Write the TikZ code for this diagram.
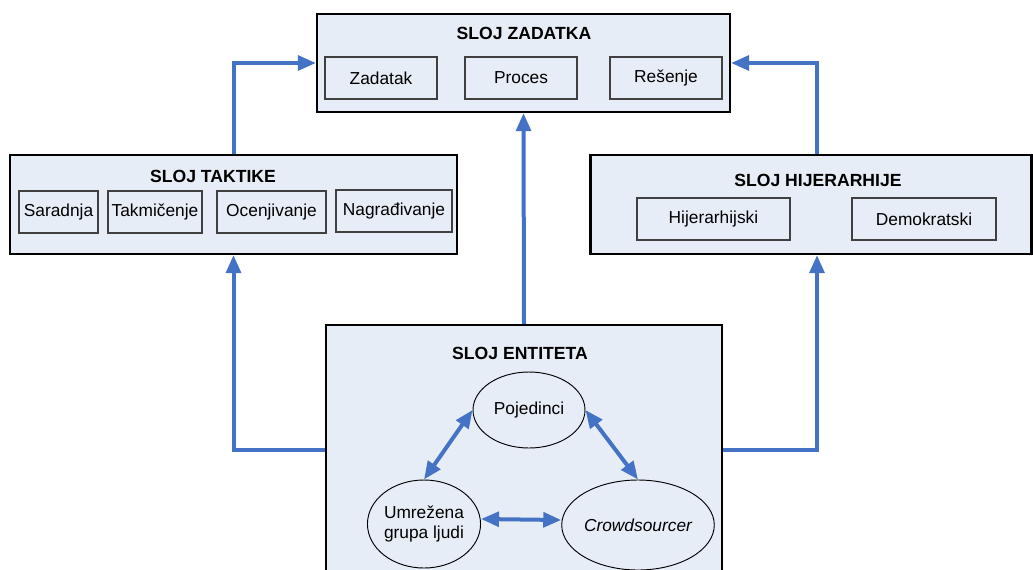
\documentclass[tikz,border=0pt]{standalone}
\usepackage{fontspec}
\setmainfont{Liberation Sans}
\usetikzlibrary{arrows.meta,shapes.geometric}

\definecolor{layerfill}{HTML}{E7EDF7}
\definecolor{linkblue}{HTML}{4472C4}
\definecolor{innerline}{HTML}{404040}

\tikzset{
  layer/.style 2 args={draw=black, line width=1.6pt, fill=layerfill,
    minimum width=#1*0.75pt, minimum height=#2*0.75pt, inner sep=0pt},
  item/.style={draw=innerline, line width=0.8pt, fill=layerfill,
    minimum width=#1*0.75pt, minimum height=42*0.75pt, inner sep=0pt,
    font=\fontsize{13}{15.6}\selectfont},
  layertitle/.style={font=\fontsize{13.2}{15.8}\selectfont\bfseries},
  entity/.style 2 args={ellipse, draw=black, line width=0.7pt, fill=layerfill,
    minimum width=#1*0.75pt, minimum height=#2*0.75pt, inner sep=0pt,
    align=center, font=\fontsize{13}{15}\selectfont},
  link/.style={draw=linkblue, line width=3pt,
    -{Triangle[length=13.5pt,width=11pt]}},
  twoway/.style={draw=linkblue, line width=3pt,
    {Triangle[length=13.5pt,width=11pt]}-{Triangle[length=13.5pt,width=11pt]}}
}

\begin{document}
\begin{tikzpicture}[x=0.75pt,y=-0.75pt]
  \useasboundingbox (0,0) rectangle (1033,569);

  % task layer
  \node[layer={413}{98}] (zad) at (523.5,63) {};
  \node[layertitle] (zadT) at (524,33) {SLOJ ZADATKA};
  \node[item=112] (zadatak) at (381,78) {Zadatak};
  \node[item=112] (proces) at (521,78) {Proces};
  \node[item=112] (resenje) at (666,78) {Rešenje};

  % tactics layer
  \node[layer={447}{99}] (tak) at (233.5,204.5) {};
  \node[layertitle] (takT) at (213,176) {SLOJ TAKTIKE};
  \node[item=79] (saradnja) at (58.5,212) {Saradnja};
  \node[item=94] (takmicenje) at (155,212) {Takmičenje};
  \node[item=109] (ocenjivanje) at (271.5,212) {Ocenjivanje};
  \node[item=116] (nagradjivanje) at (394,211) {Nagrađivanje};

  % hierarchy layer
  \node[layer={441}{99}] (hij) at (811,204.5) {};
  \node[layertitle] (hijT) at (818,180) {SLOJ HIJERARHIJE};
  \node[item=153] (hijerarhijski) at (713.5,219) {Hijerarhijski};
  \node[item=144] (demokratski) at (924,219) {Demokratski};

  % entity layer (runs past the lower edge)
  \node[layer={396}{250}] (ent) at (524,450) {};
  \node[layertitle] (entT) at (520,353) {SLOJ ENTITETA};
  \node[entity={112}{76}] (poj) at (529,410) {Pojedinci};
  \node[entity={110}{88}] (umr) at (424,524) {Umrežena\\grupa ljudi};
  \node[entity={152}{90}] (cro) at (638,525) {\itshape Crowdsourcer};

  % links between layers
  \draw[link] (tak.north) |- (zad.west);
  \draw[link] ([xshift=6*0.75pt]hij.north) |- (zad.east);
  \draw[link] (ent.north) -- (zad.south);
  \draw[link] (ent.west) -| (tak.south);
  \draw[link] (ent.east) -| ([xshift=6*0.75pt]hij.south);

  % links between entities
  \draw[twoway] (poj.west) -- (umr.north);
  \draw[twoway] (poj.east) -- (cro.north);
  \draw[twoway] ([yshift=5*0.75pt]umr.east) -- ([yshift=5*0.75pt]cro.west);
\end{tikzpicture}
\end{document}
